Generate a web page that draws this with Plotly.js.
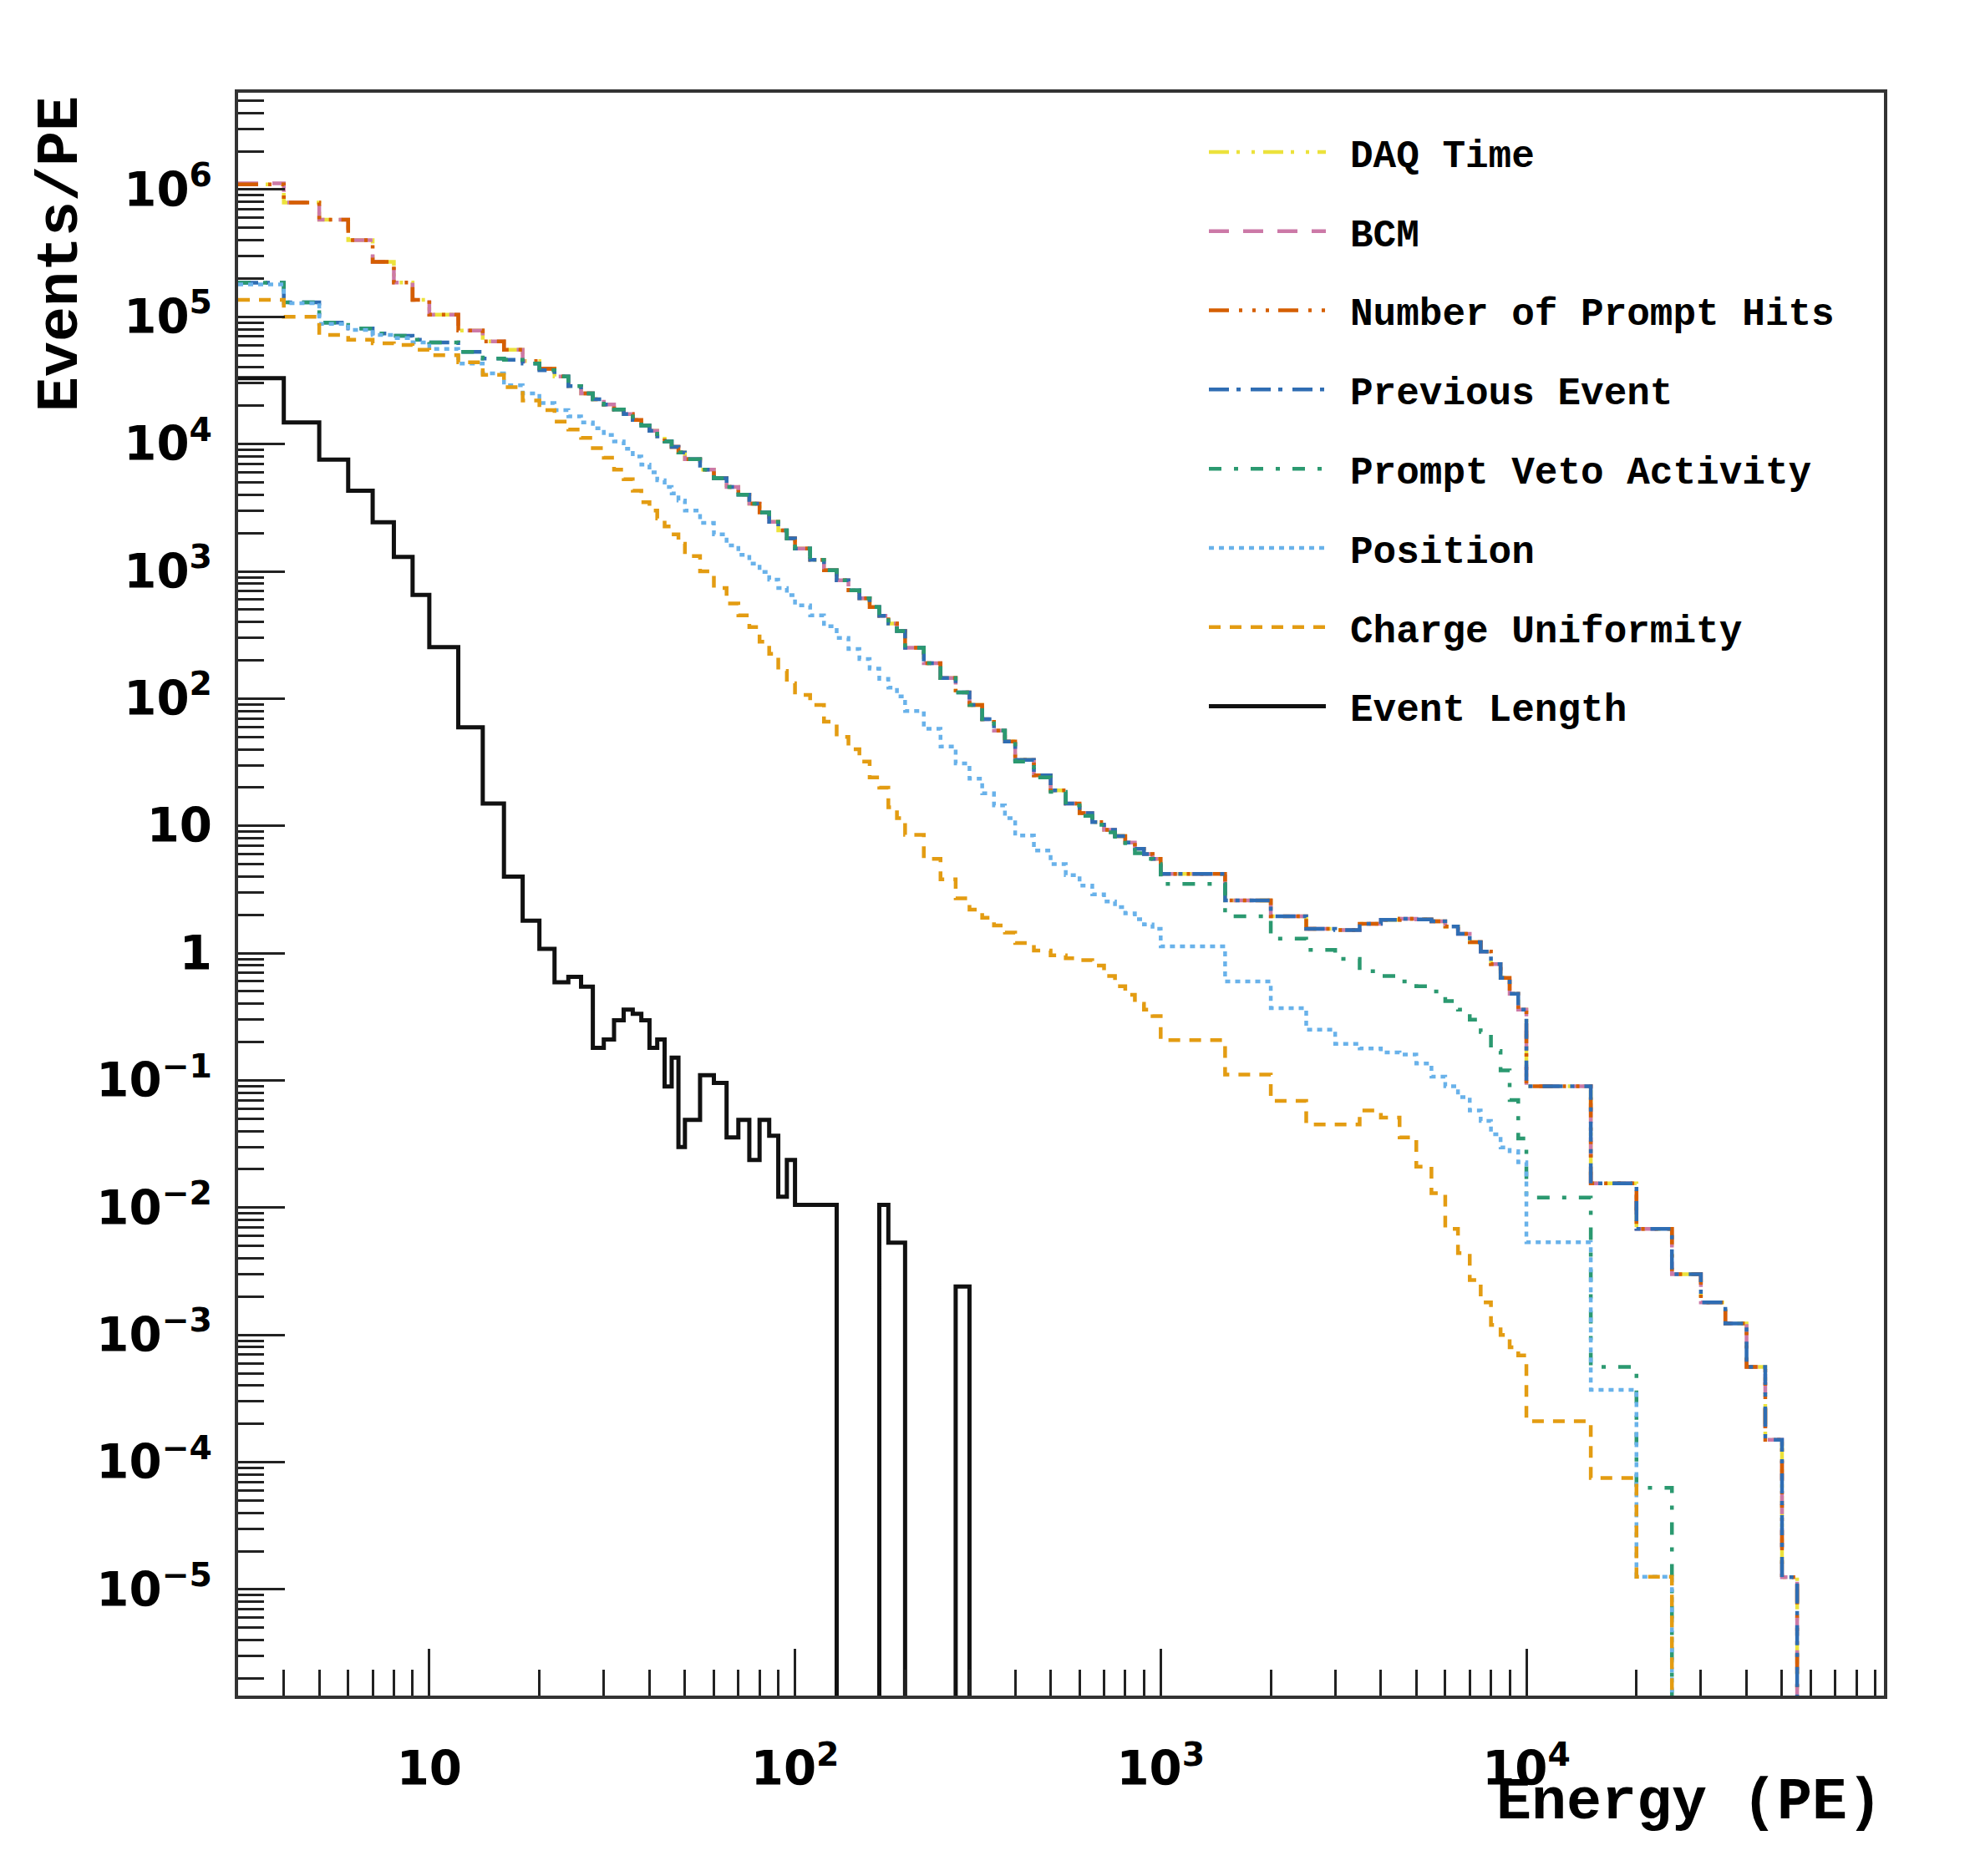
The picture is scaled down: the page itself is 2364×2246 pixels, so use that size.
<!DOCTYPE html>
<html>
<head>
<meta charset="utf-8">
<script src="https://cdn.plot.ly/plotly-3.0.1.min.js"></script>
<style>html,body{margin:0;padding:0;background:#fff;}#chart{width:2364px;height:2246px;}</style>
</head>
<body>
<div id="chart"></div>
<script>
// Bin edges (PE)
const edges = [3,4,5,6,7,8,9,10,
  12,14,16,18,20,22,24,26,28,30,32,34,36,38,40,42,44,46,48,50,
  55,60,65,70,75,80,85,90,95,100,
  110,120,130,140,150,160,170,180,190,200,
  225,250,275,300,325,350,375,400,
  450,500,550,600,650,700,750,800,850,900,950,1000,
  1500,2000,2500,3000,3500,4000,4500,5000,5500,6000,6500,7000,7500,8000,8500,9000,9500,10000,
  15000,20000,25000,30000,35000,40000,45000,50000,55000,60000,65000,70000,75000,80000,85000,90000,95000];

// Events/PE per bin
const daqTime = [
  1.10e6,7.9e5,5.8e5,4.0e5,2.7e5,1.86e5,1.36e5,
  1.04e5,7.8e4,6.4e4,5.5e4,4.5e4,3.9e4,3.4e4,2.85e4,2.5e4,2.25e4,2.05e4,1.87e4,1.72e4,1.55e4,1.40e4,1.27e4,1.15e4,1.05e4,9.5e3,8.6e3,
  7.6e3,6.3e3,5.4e3,4.6e3,4.0e3,3.4e3,2.9e3,2.45e3,2.1e3,1.82e3,
  1510,1230,1020,850,710,615,525,447,389,339,
  251,190,145,112,89,69,56,46,
  33,25,19,15,12.6,10.7,9.3,8.3,7.4,6.6,6.0,5.5,
  4.2,2.6,1.95,1.55,1.52,1.70,1.83,1.86,1.84,1.78,1.62,1.42,1.22,1.03,0.82,0.64,0.48,0.36,
  0.09,0.0155,0.0068,0.0030,0.0018,0.00123,5.6e-4,1.5e-4,1.25e-5,0,0,0,0,0,0,0,0];
const bcm = [
  1.12e6,7.9e5,5.8e5,4.0e5,2.7e5,1.86e5,1.36e5,
  1.04e5,7.8e4,6.4e4,5.5e4,4.5e4,3.9e4,3.4e4,2.85e4,2.5e4,2.25e4,2.05e4,1.87e4,1.72e4,1.55e4,1.40e4,1.27e4,1.15e4,1.05e4,9.5e3,8.6e3,
  7.6e3,6.3e3,5.4e3,4.6e3,4.0e3,3.4e3,2.9e3,2.45e3,2.1e3,1.82e3,
  1510,1230,1020,850,710,615,525,447,389,339,
  251,190,145,112,89,69,56,46,
  33,25,19,15,12.6,10.7,9.3,8.3,7.4,6.6,6.0,5.5,
  4.2,2.6,1.95,1.55,1.52,1.70,1.83,1.86,1.84,1.78,1.62,1.42,1.22,1.03,0.82,0.64,0.48,0.36,
  0.09,0.0155,0.0068,0.0030,0.0018,0.00123,5.6e-4,1.5e-4,1.25e-5,0,0,0,0,0,0,0,0];
const promptHits = [
  1.10e6,7.9e5,5.8e5,4.0e5,2.7e5,1.86e5,1.36e5,
  1.04e5,7.8e4,6.4e4,5.5e4,4.5e4,3.9e4,3.4e4,2.85e4,2.5e4,2.25e4,2.05e4,1.87e4,1.72e4,1.55e4,1.40e4,1.27e4,1.15e4,1.05e4,9.5e3,8.6e3,
  7.6e3,6.3e3,5.4e3,4.6e3,4.0e3,3.4e3,2.9e3,2.45e3,2.1e3,1.82e3,
  1510,1230,1020,850,710,615,525,447,389,339,
  251,190,145,112,89,69,56,46,
  33,25,19,15,12.6,10.7,9.3,8.3,7.4,6.6,6.0,5.5,
  4.2,2.6,1.95,1.55,1.52,1.70,1.83,1.86,1.84,1.78,1.62,1.42,1.22,1.03,0.82,0.64,0.48,0.36,
  0.09,0.0155,0.0068,0.0030,0.0018,0.00123,5.6e-4,1.5e-4,1.25e-5,0,0,0,0,0,0,0,0];
const previousEvent = [
  1.85e5,1.30e5,9.0e4,8.1e4,7.4e4,7.1e4,6.6e4,
  6.3e4,5.3e4,4.7e4,4.6e4,4.3e4,3.8e4,3.4e4,2.85e4,2.5e4,2.25e4,2.05e4,1.87e4,1.72e4,1.55e4,1.40e4,1.27e4,1.15e4,1.05e4,9.5e3,8.6e3,
  7.6e3,6.3e3,5.4e3,4.6e3,4.0e3,3.4e3,2.9e3,2.45e3,2.1e3,1.82e3,
  1510,1230,1020,850,710,615,525,447,389,339,
  251,190,145,112,89,69,56,46,
  33,25,19,15,12.6,10.7,9.3,8.3,7.4,6.6,6.0,5.5,
  4.2,2.6,1.95,1.55,1.52,1.70,1.83,1.86,1.84,1.78,1.62,1.42,1.22,1.03,0.82,0.64,0.48,0.36,
  0.09,0.0155,0.0068,0.0030,0.0018,0.00123,5.6e-4,1.5e-4,1.25e-5,0,0,0,0,0,0,0,0];
const promptVeto = [
  1.85e5,1.30e5,9.0e4,8.1e4,7.4e4,7.1e4,6.6e4,
  6.3e4,5.3e4,4.7e4,4.6e4,4.3e4,3.8e4,3.4e4,2.85e4,2.5e4,2.25e4,2.05e4,1.87e4,1.72e4,1.55e4,1.40e4,1.27e4,1.15e4,1.05e4,9.5e3,8.6e3,
  7.6e3,6.3e3,5.4e3,4.6e3,4.0e3,3.4e3,2.9e3,2.45e3,2.1e3,1.82e3,
  1510,1230,1020,850,710,615,525,447,389,339,
  251,190,145,112,89,69,56,46,
  32,24,18.5,14.5,12.0,10.2,8.9,7.8,6.9,6.1,5.5,5.0,
  3.5,1.95,1.3,1.06,0.9,0.72,0.66,0.6,0.55,0.5,0.42,0.36,0.3,0.24,0.17,0.12,0.07,0.035,
  0.012,5.6e-4,6.3e-5,0,0,0,0,0,0,0,0,0,0,0,0,0,0];
const position = [
  1.8e5,1.28e5,8.8e4,7.9e4,7.2e4,6.8e4,6.3e4,
  5.6e4,4.3e4,3.6e4,2.9e4,2.5e4,2.1e4,1.85e4,1.65e4,1.48e4,1.33e4,1.18e4,1.05e4,9.2e3,8.0e3,6.9e3,6.0e3,5.2e3,4.6e3,4.1e3,3.6e3,
  3.0e3,2.4e3,1.95e3,1.6e3,1.35e3,1.15e3,990,860,740,650,
  540,450,370,300,245,205,172,143,122,104,
  80,58,42,31,23.5,18,14.5,11.5,
  8.4,6.4,5.0,4.1,3.4,2.9,2.55,2.3,2.05,1.85,1.68,1.55,
  1.13,0.6,0.37,0.25,0.194,0.178,0.166,0.16,0.136,0.107,0.09,0.074,0.058,0.048,0.0377,0.0297,0.0278,0.0227,
  0.00535,3.7e-4,1.26e-5,0,0,0,0,0,0,0,0,0,0,0,0,0,0];
const chargeUniformity = [
  1.36e5,1.0e5,7.2e4,6.6e4,6.2e4,6.0e4,5.5e4,
  5.0e4,4.4e4,3.5e4,2.8e4,2.2e4,1.85e4,1.5e4,1.3e4,1.12e4,9.3e3,7.8e3,6.3e3,5.3e3,4.3e3,3.5e3,3.0e3,2.6e3,2.25e3,1.95e3,1.65e3,
  1.32e3,1.0e3,740,560,450,365,280,225,165,132,
  107,89,66,50,40,32,24,20,14,11.5,
  8.5,5.5,3.8,2.7,2.2,1.9,1.65,1.45,
  1.2,1.05,0.96,0.91,0.88,0.8,0.66,0.55,0.47,0.4,0.36,0.32,
  0.207,0.111,0.069,0.045,0.045,0.058,0.051,0.0356,0.021,0.013,0.0068,0.0044,0.0027,0.0018,0.0012,0.001,8e-4,6.9e-4,
  2.1e-4,7.5e-5,1.26e-5,0,0,0,0,0,0,0,0,0,0,0,0,0,0];
const eventLength = [
  3.3e4,1.48e4,7550,4300,2430,1300,653,
  254,59.6,15,4.0,1.8,1.08,0.59,0.65,0.546,0.18,0.21,0.297,0.36,0.334,0.297,0.18,0.21,0.0895,0.151,0.030,
  0.049,0.110,0.0955,0.0357,0.049,0.0237,0.049,0.0368,0.0122,0.0237,
  0.0105,0.0105,0.0105,0,0,0,0,0.0105,0.0053,0.0053,
  0,0,0,0.0024,0,0,0,0,
  0,0,0,0,0,0,0,0,0,0,0,0,
  0,0,0,0,0,0,0,0,0,0,0,0,0,0,0,0,0,0,
  0,0,0,0,0,0,0,0,0,0,0,0,0,0,0,0,0];

const seriesNames = ['DAQ Time','BCM','Number of Prompt Hits','Previous Event',
  'Prompt Veto Activity','Position','Charge Uniformity','Event Length'];
const seriesValues = [daqTime,bcm,promptHits,previousEvent,promptVeto,position,chargeUniformity,eventLength];
const seriesColors = ['#ece23c','#cc79a7','#d55e00','#2f6db3','#2b9970','#69b2ea','#e39c12','#111111'];
const seriesDash = ['24px,9px,4px,14px,4px,10px','24px,17px','24px,12px,4px,12px,4px,12px,4px,11px',
  '24px,9px,5px,12px','15px,15px,5px,15px','6px,6px','14px,11px','solid'];

// empty bins drawn down to the bottom of the frame, as ROOT does
const FLOOR = 1e-9;
// small gap between the legend line sample and its label
const GAP = '<span style="font-size:40px">\u00a0</span>';
const traces = seriesNames.map((name, i) => {
  const vals = seriesValues[i];
  const y = vals.map(v => (v > 0 ? v : FLOOR));
  y.push(y[y.length - 1]);
  return {
    type: 'scatter', mode: 'lines', name: GAP + name, legendgroup: 'g' + i,
    x: edges.slice(), y: y,
    line: {shape: 'hv', color: seriesColors[i], width: i === 7 ? 5 : 4.5, dash: seriesDash[i]},
    hoverinfo: 'skip'
  };
});

const tickFont = {family: 'DejaVu Sans', size: 45, color: '#000', weight: 'bold'};
const axisCommon = {
  type: 'log', showgrid: false, zeroline: false,
  showline: true, linewidth: 4, linecolor: '#333', mirror: true,
  ticks: 'inside', ticklen: 56, tickwidth: 3, tickcolor: '#222',
  dtick: 1, exponentformat: 'power', tickfont: tickFont,
  minor: {ticks: 'inside', ticklen: 31, tickwidth: 3, tickcolor: '#222', dtick: 'D1', showgrid: false}
};

const layout = {
  width: 2364, height: 2246,
  margin: {l: 285, r: 109, t: 111, b: 216, pad: 0},
  paper_bgcolor: '#fff', plot_bgcolor: '#fff',
  font: {family: 'DejaVu Sans', color: '#000'},
  showlegend: true,
  xaxis: Object.assign({}, axisCommon, {range: [Math.log10(3), Math.log10(95000)], ticklabelstandoff: 38}),
  yaxis: Object.assign({}, axisCommon, {range: [-5.834, 6.761], ticklabelstandoff: 18}),
  legend: {
    x: 0.5873, y: 0.982, xanchor: 'left', yanchor: 'top',
    bgcolor: 'rgba(0,0,0,0)', borderwidth: 0,
    font: {family: 'Liberation Mono', size: 46, color: '#000', weight: 'bold'},
    traceorder: 'grouped', tracegroupgap: 32, itemwidth: 140
  },
  annotations: [
    {text: 'Events/PE', xref: 'paper', yref: 'paper', x: -0.107, y: 0.999,
     xanchor: 'center', yanchor: 'top', textangle: -90, showarrow: false,
     font: {family: 'Liberation Mono', size: 70, color: '#000', weight: 'bold'}},
    {text: 'Energy (PE)', xref: 'paper', yref: 'paper', x: 1.0, y: -0.0672,
     xanchor: 'right', yanchor: 'middle', showarrow: false,
     font: {family: 'Liberation Mono', size: 70, color: '#000', weight: 'bold'}}
  ]
};

Plotly.newPlot('chart', traces, layout, {displayModeBar: false, staticPlot: true});
</script>
</body>
</html>
